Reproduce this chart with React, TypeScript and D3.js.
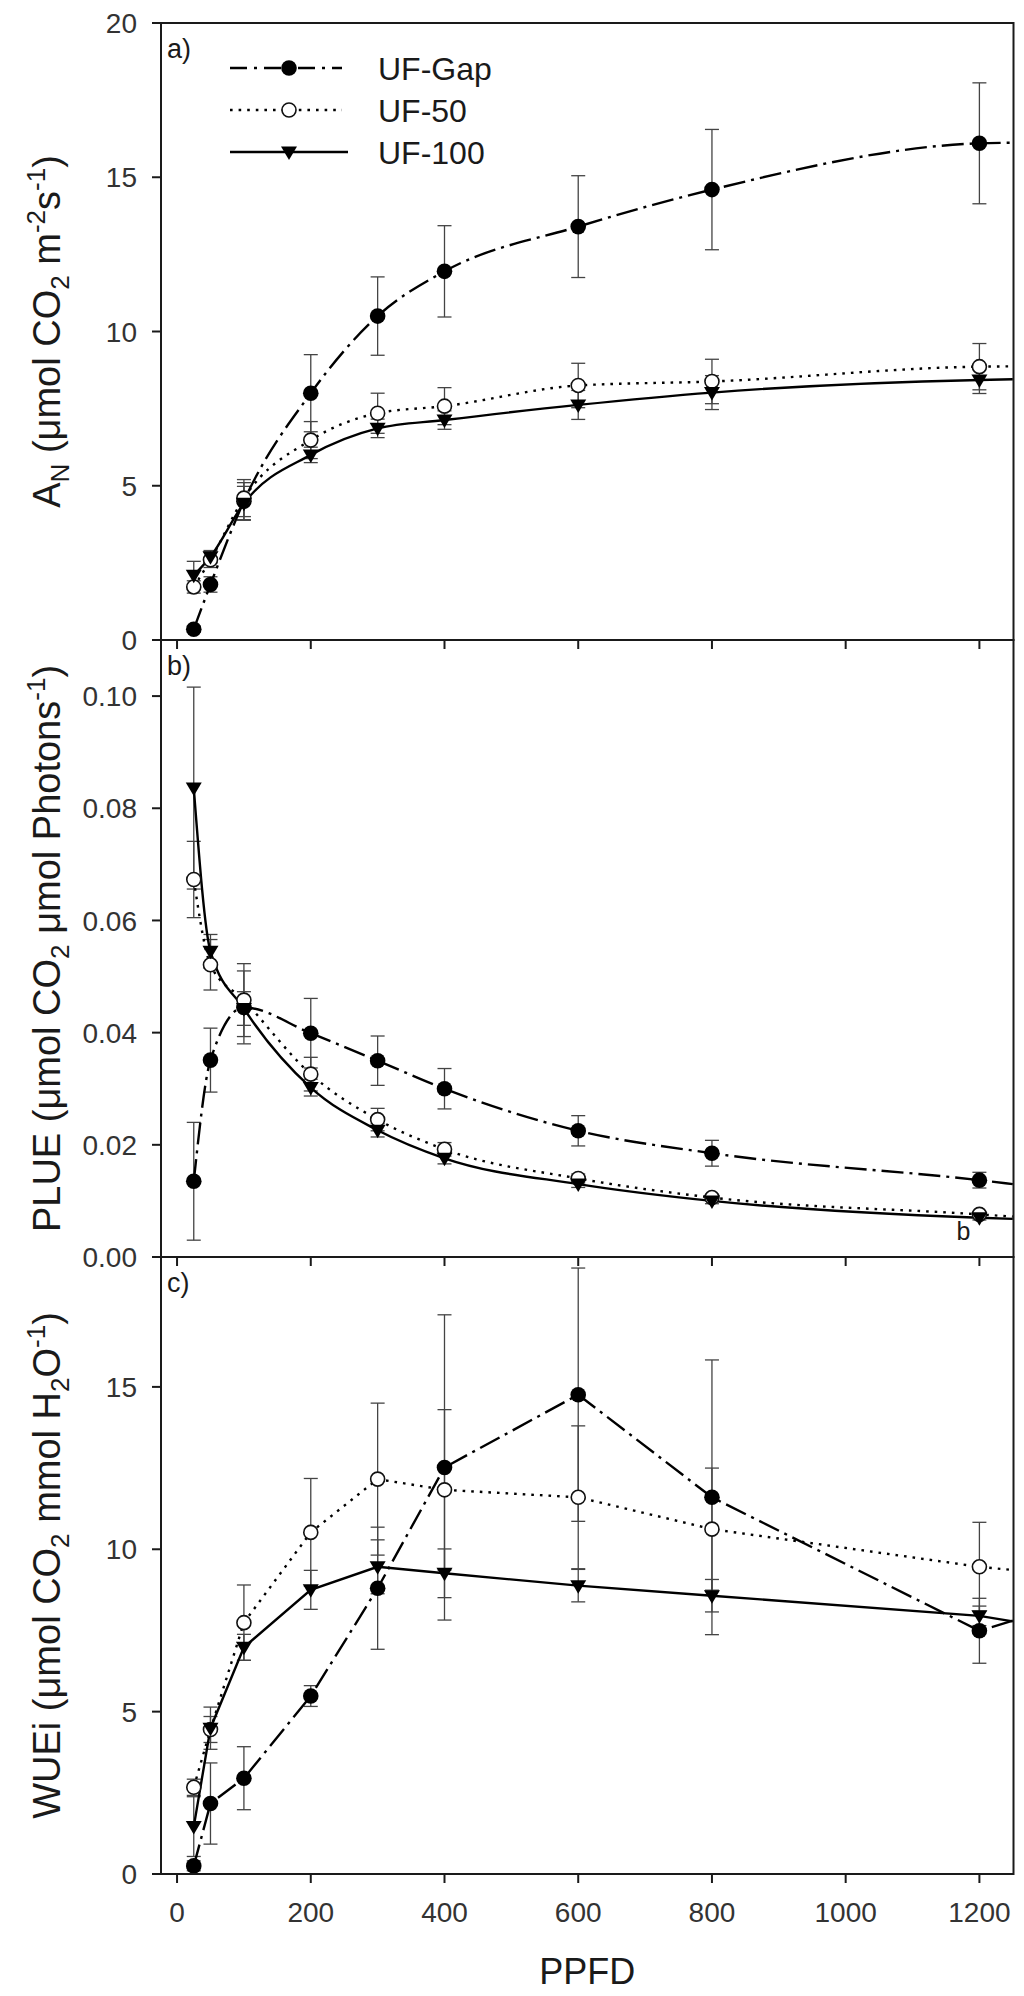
import * as d3 from 'd3'

// PPFD levels (x) shared by all three panels
const ppfd = [25, 50, 100, 200, 300, 400, 600, 800, 1200]
// the drawn lines run on to the right frame
const edgePpfd = 1250

// a) net assimilation A_N
const anGap = [0.35, 1.8, 4.5, 8.0, 10.5, 11.95, 13.4, 14.6, 16.1]
const anGapErr = [0.1, 0.25, 0.6, 1.25, 1.27, 1.48, 1.65, 1.95, 1.96]
const anGapEnd = 16.12
const an50 = [1.72, 2.6, 4.6, 6.48, 7.35, 7.58, 8.25, 8.38, 8.86]
const an50Err = [0.2, 0.25, 0.6, 0.6, 0.65, 0.6, 0.72, 0.72, 0.75]
const an50End = 8.87
const an100 = [2.1, 2.7, 4.43, 6.0, 6.86, 7.13, 7.62, 8.02, 8.43]
const an100Err = [0.45, 0.2, 0.55, 0.25, 0.3, 0.3, 0.47, 0.55, 0.44]
const an100End = 8.45

// b) photosynthetic light use efficiency
const plueGap = [0.0135, 0.0351, 0.0445, 0.0399, 0.035, 0.03, 0.0225, 0.0185, 0.0137]
const plueGapErr = [0.0105, 0.0057, 0.0065, 0.0062, 0.0044, 0.0036, 0.0027, 0.0023, 0.0014]
const plueGapEnd = 0.013
const plue50 = [0.0673, 0.0521, 0.0458, 0.0326, 0.0245, 0.0192, 0.014, 0.0106, 0.0076]
const plue50Err = [0.0068, 0.0045, 0.0065, 0.003, 0.002, 0.0012, 0.0008, 0.0006, 0.0005]
const plue50End = 0.0072
const plue100 = [0.0836, 0.0545, 0.0443, 0.0302, 0.0226, 0.0176, 0.013, 0.01, 0.007]
const plue100Err = [0.018, 0.003, 0.003, 0.0015, 0.0012, 0.001, 0.0006, 0.0005, 0.0004]
const plue100End = 0.0068

// c) intrinsic water use efficiency
const wueGap = [0.25, 2.17, 2.95, 5.48, 8.8, 12.52, 14.76, 11.6, 7.49]
const wueGapErr = [0.15, 1.25, 0.97, 0.32, 1.88, 4.7, 3.9, 4.23, 1.0]
const wueGapEnd = 7.8
const wue50 = [2.67, 4.45, 7.74, 10.52, 12.16, 11.83, 11.6, 10.62, 9.46]
const wue50Err = [0.25, 0.4, 1.16, 1.66, 2.34, 2.47, 2.2, 1.88, 1.37]
const wue50End = 9.36
const wue100 = [1.46, 4.49, 6.98, 8.75, 9.46, 9.26, 8.88, 8.57, 7.95]
const wue100Err = [0.92, 0.65, 0.4, 0.6, 0.83, 0.75, 0.5, 0.5, 0.3]
const wue100End = 7.78

const xTicks = [0, 200, 400, 600, 800, 1000, 1200]
const anTicks = [0, 5, 10, 15, 20]
const plueTicks = [0, 0.02, 0.04, 0.06, 0.08, 0.1]
const wueTicks = [0, 5, 10, 15]

const seriesNames = ['UF-Gap', 'UF-50', 'UF-100']

type Kind = 'gap' | 'f50' | 'f100'
type Seg = [string, ('sub' | 'sup')?]

interface Series {
  kind: Kind
  values: number[]
  err: number[]
  end: number
}

const W = 1024
const H = 1996
const left = 161
const right = 1013.5
const panelH = 617
const top0 = 23
const ink = '#1a1a1a'
const font = '"Liberation Sans", Arial, sans-serif'

const x = d3.scaleLinear().domain([-24, 1251]).range([left, right])

const lineStyle: Record<Kind, { dash?: string }> = {
  gap: { dash: '22 6 3 6' },
  f50: { dash: '2.6 6' },
  f100: {},
}

function Marker({ kind, cx, cy }: { kind: Kind; cx: number; cy: number }) {
  if (kind === 'gap') return <circle cx={cx} cy={cy} r={7.8} fill="#000" />
  if (kind === 'f50')
    return <circle cx={cx} cy={cy} r={7} fill="#fff" stroke="#111" strokeWidth={1.6} />
  return (
    <path
      d={`M${cx - 8},${cy - 5.5}L${cx + 8},${cy - 5.5}L${cx},${cy + 8}Z`}
      fill="#000"
    />
  )
}

function Label({ segs, x0, y0 }: { segs: Seg[]; x0: number; y0: number }) {
  let cur = 0
  return (
    <text
      transform={`translate(${x0},${y0}) rotate(-90)`}
      textAnchor="middle"
      fontSize={38}
      fontFamily={font}
      fill={ink}
    >
      {segs.map(([t, s], i) => {
        const target = s === 'sub' ? 9 : s === 'sup' ? -15 : 0
        const dy = target - cur
        cur = target
        return (
          <tspan key={i} dy={dy} fontSize={s ? 26 : undefined}>
            {t}
          </tspan>
        )
      })}
    </text>
  )
}

interface PanelProps {
  index: number
  yMax: number
  yTicks: number[]
  fmt: (v: number) => string
  series: Series[]
  smooth: boolean
  tag: string
  label: Seg[]
  showX?: boolean
}

function Panel({ index, yMax, yTicks, fmt, series, smooth, tag, label, showX }: PanelProps) {
  const top = top0 + index * panelH
  const bottom = top + panelH
  const y = d3.scaleLinear().domain([0, yMax]).range([bottom, top])
  const line = d3
    .line<[number, number]>()
    .x(d => x(d[0]))
    .y(d => y(d[1]))
    .curve(smooth ? d3.curveMonotoneX : d3.curveLinear)

  return (
    <g>
      {/* error bars */}
      {series.map(s => (
        <g key={'e' + s.kind} stroke="#444" strokeWidth={1.3}>
          {ppfd.map((p, i) => {
            const cx = x(p)
            const y1 = y(s.values[i] + s.err[i])
            const y2 = y(Math.max(0, s.values[i] - s.err[i]))
            return (
              <g key={p}>
                <line x1={cx} x2={cx} y1={y1} y2={y2} />
                <line x1={cx - 7} x2={cx + 7} y1={y1} y2={y1} />
                <line x1={cx - 7} x2={cx + 7} y1={y2} y2={y2} />
              </g>
            )
          })}
        </g>
      ))}
      {/* lines */}
      {series.map(s => {
        const pts = ppfd.map((p, i) => [p, s.values[i]] as [number, number])
        pts.push([edgePpfd, s.end])
        return (
          <path
            key={'l' + s.kind}
            d={line(pts) ?? ''}
            fill="none"
            stroke="#000"
            strokeWidth={2.4}
            strokeDasharray={lineStyle[s.kind].dash}
          />
        )
      })}
      {/* markers */}
      {series.map(s => (
        <g key={'m' + s.kind}>
          {ppfd.map((p, i) => (
            <Marker key={p} kind={s.kind} cx={x(p)} cy={y(s.values[i])} />
          ))}
        </g>
      ))}

      {/* frame */}
      <rect x={left} y={top} width={right - left} height={panelH} fill="none" stroke={ink} strokeWidth={2} />

      {/* y axis */}
      {yTicks.map(t => (
        <g key={t}>
          <line x1={left - 9} x2={left} y1={y(t)} y2={y(t)} stroke={ink} strokeWidth={2} />
          <text
            x={left - 24}
            y={y(t)}
            dy="0.36em"
            textAnchor="end"
            fontSize={28}
            fontFamily={font}
            fill="#333"
          >
            {fmt(t)}
          </text>
        </g>
      ))}

      {/* x axis ticks */}
      {xTicks.map(t => (
        <g key={t}>
          <line x1={x(t)} x2={x(t)} y1={bottom} y2={bottom + 9} stroke={ink} strokeWidth={2} />
          {showX && (
            <text
              x={x(t)}
              y={bottom + 48}
              textAnchor="middle"
              fontSize={28}
              fontFamily={font}
              fill="#333"
            >
              {t}
            </text>
          )}
        </g>
      ))}

      <text x={left + 6} y={top + 35} fontSize={27} fontFamily={font} fill={ink}>
        {tag}
      </text>

      <Label segs={label} x0={60} y0={(top + bottom) / 2} />
    </g>
  )
}

function Legend() {
  const kinds: Kind[] = ['gap', 'f50', 'f100']
  return (
    <g>
      {kinds.map((k, i) => {
        const cy = 68 + i * 42
        return (
          <g key={k}>
            <line
              x1={230}
              x2={k === 'f100' ? 348 : 342}
              y1={cy}
              y2={cy}
              stroke="#000"
              strokeWidth={2.4}
              strokeDasharray={k === 'gap' ? '17 7 3 7' : lineStyle[k].dash}
            />
            <Marker kind={k} cx={289} cy={cy} />
            <text x={378} y={cy + 11.5} fontSize={32} fontFamily={font} fill={ink}>
              {seriesNames[i]}
            </text>
          </g>
        )
      })}
    </g>
  )
}

export default function App() {
  const panelA: Series[] = [
    { kind: 'gap', values: anGap, err: anGapErr, end: anGapEnd },
    { kind: 'f50', values: an50, err: an50Err, end: an50End },
    { kind: 'f100', values: an100, err: an100Err, end: an100End },
  ]
  const panelB: Series[] = [
    { kind: 'gap', values: plueGap, err: plueGapErr, end: plueGapEnd },
    { kind: 'f50', values: plue50, err: plue50Err, end: plue50End },
    { kind: 'f100', values: plue100, err: plue100Err, end: plue100End },
  ]
  const panelC: Series[] = [
    { kind: 'gap', values: wueGap, err: wueGapErr, end: wueGapEnd },
    { kind: 'f50', values: wue50, err: wue50Err, end: wue50End },
    { kind: 'f100', values: wue100, err: wue100Err, end: wue100End },
  ]
  const yB = d3.scaleLinear().domain([0, 0.11]).range([top0 + 2 * panelH, top0 + panelH])

  return (
    <svg
      width={W}
      height={H}
      viewBox={`0 0 ${W} ${H}`}
      style={{ position: 'absolute', left: 0, top: 0, background: '#fff' }}
    >
      <Panel
        index={0}
        yMax={20}
        yTicks={anTicks}
        fmt={d3.format('d')}
        series={panelA}
        smooth
        tag="a)"
        label={[['A'], ['N', 'sub'], [' (μmol CO'], ['2', 'sub'], [' m'], ['-2', 'sup'], ['s'], ['-1', 'sup'], [')']]}
      />
      <Panel
        index={1}
        yMax={0.11}
        yTicks={plueTicks}
        fmt={d3.format('.2f')}
        series={panelB}
        smooth
        tag="b)"
        label={[['PLUE (μmol CO'], ['2', 'sub'], [' μmol Photons'], ['-1', 'sup'], [')']]}
      />
      <Panel
        index={2}
        yMax={19}
        yTicks={wueTicks}
        fmt={d3.format('d')}
        series={panelC}
        smooth={false}
        tag="c)"
        label={[['WUEi (μmol CO'], ['2', 'sub'], [' mmol H'], ['2', 'sub'], ['O'], ['-1', 'sup'], [')']]}
        showX
      />
      <Legend />
      <text x={x(1200) - 16} y={yB(0.0031)} textAnchor="middle" fontSize={25} fontFamily={font} fill={ink}>
        b
      </text>
      <text
        x={(left + right) / 2}
        y={1984}
        textAnchor="middle"
        fontSize={36}
        fontFamily={font}
        fill={ink}
      >
        PPFD
      </text>
    </svg>
  )
}
